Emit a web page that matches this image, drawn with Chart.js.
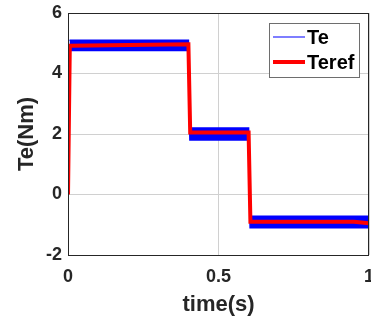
<!DOCTYPE html>
<html>
<head>
<meta charset="utf-8">
<script src="https://cdn.jsdelivr.net/npm/chart.js@4/dist/chart.umd.min.js"></script>
<style>
  body { margin: 0; background: #fff; }
</style>
</head>
<body>
<canvas id="torqueChart" width="371" height="322"></canvas>
<script>
// Te band (measured torque ripple envelope)
const teTime  = [0.005, 0.4, 0.405, 0.6, 0.605, 0.997];
const teUpper = [5.1, 5.1, 2.2, 2.2, -0.72, -0.72];
const teLower = [4.76, 4.76, 1.8, 1.8, -1.1, -1.1];

// Teref step reference
const refTime   = [0, 0.006, 0.4, 0.406, 0.6, 0.606, 0.95, 1];
const refValues = [0, 4.92, 4.97, 2.05, 2.05, -0.9, -0.9, -0.95];

const xTicks = [0, 0.5, 1];
const yTicks = [-2, 0, 2, 4, 6];

const FONT = "'Liberation Sans', Arial, sans-serif";
const TEXT = '#262626';

const toPoints = (xs, ys) => xs.map((x, i) => ({ x: x, y: ys[i] }));

// box around the axes and the legend inside the plot
const frameAndLegend = {
    id: 'frameAndLegend',
    afterDraw(chart) {
        const ctx = chart.ctx;
        const a = chart.chartArea;
        ctx.save();
        ctx.strokeStyle = TEXT;
        ctx.lineWidth = 1;
        ctx.strokeRect(Math.round(a.left) + 0.5, Math.round(a.top) + 0.5,
            Math.round(a.right - a.left) - 1, Math.round(a.bottom - a.top));

        // legend
        const lx = 269, ly = 23, lw = 90, lh = 54;
        ctx.fillStyle = '#fff';
        ctx.fillRect(lx, ly, lw, lh);
        ctx.strokeStyle = '#6e6e6e';
        ctx.strokeRect(lx + 0.5, ly + 0.5, lw, lh);

        const entries = [
            { label: chart.data.datasets[1].label, color: 'rgba(40,40,255,0.6)', width: 2, y: 37 },
            { label: chart.data.datasets[0].label, color: '#ff0000', width: 4, y: 62 }
        ];
        ctx.font = 'bold 20px ' + FONT;
        ctx.textBaseline = 'middle';
        ctx.textAlign = 'left';
        entries.forEach(e => {
            ctx.strokeStyle = e.color;
            ctx.lineWidth = e.width;
            ctx.beginPath();
            ctx.moveTo(273, e.y);
            ctx.lineTo(305, e.y);
            ctx.stroke();
            ctx.fillStyle = '#000';
            ctx.fillText(e.label, 307, e.y + 1);
        });
        ctx.restore();
    }
};

new Chart(document.getElementById('torqueChart').getContext('2d'), {
    type: 'line',
    data: {
        datasets: [
            {
                label: 'Teref',
                data: toPoints(refTime, refValues),
                borderColor: '#ff0000',
                borderWidth: 4,
                pointRadius: 0,
                fill: false,
                order: 0
            },
            {
                label: 'Te',
                data: toPoints(teTime, teUpper),
                borderColor: '#0000ff',
                backgroundColor: '#0000ff',
                borderWidth: 1.5,
                pointRadius: 0,
                fill: '+1',
                order: 1
            },
            {
                label: 'Te lower',
                data: toPoints(teTime, teLower),
                borderColor: '#0000ff',
                borderWidth: 1.5,
                pointRadius: 0,
                fill: false,
                order: 1
            }
        ]
    },
    options: {
        responsive: false,
        animation: false,
        layout: { padding: { top: 13, right: 2, left: 0, bottom: 0 } },
        plugins: {
            legend: { display: false },
            tooltip: { enabled: false }
        },
        scales: {
            x: {
                type: 'linear',
                min: 0,
                max: 1,
                afterBuildTicks: s => { s.ticks = xTicks.map(v => ({ value: v })); },
                afterFit: s => { s.height = 67; s.paddingLeft = 0; s.paddingRight = 0; },
                grid: { color: '#d0d0d0', drawTicks: false },
                border: { display: false },
                ticks: {
                    color: TEXT,
                    padding: 11,
                    maxRotation: 0,
                    font: { family: FONT, size: 18, weight: 'bold' },
                    callback: v => String(v)
                },
                title: {
                    display: true,
                    text: 'time(s)',
                    color: TEXT,
                    padding: { top: 0, bottom: 4 },
                    font: { family: FONT, size: 22, weight: 'bold' }
                }
            },
            y: {
                min: -2,
                max: 6,
                afterBuildTicks: s => { s.ticks = yTicks.map(v => ({ value: v })); },
                afterFit: s => { s.width = 68; s.paddingTop = 0; s.paddingBottom = 0; },
                grid: { color: '#d0d0d0', drawTicks: false },
                border: { display: false },
                ticks: {
                    color: TEXT,
                    padding: 6,
                    font: { family: FONT, size: 18, weight: 'bold' },
                    callback: v => String(v)
                },
                title: {
                    display: true,
                    text: 'Te(Nm)',
                    color: TEXT,
                    padding: { top: 14, bottom: 0 },
                    font: { family: FONT, size: 22, weight: 'bold' }
                }
            }
        }
    },
    plugins: [frameAndLegend]
});
</script>
</body>
</html>
